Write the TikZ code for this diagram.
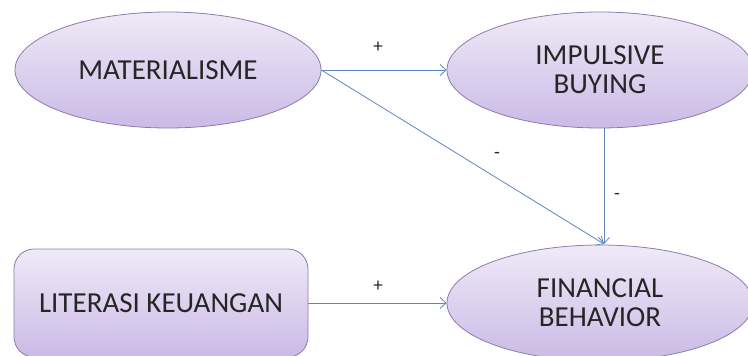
\documentclass[tikz,border=0pt]{standalone}
\usepackage{fontspec}
\setmainfont{Carlito}
\usetikzlibrary{shapes.geometric,arrows.meta}
\definecolor{fillTop}{HTML}{EFEAF7}
\definecolor{fillBot}{HTML}{CBBAE6}
\definecolor{edgeC}{HTML}{8A7DA8}
\definecolor{lineC}{HTML}{5F86BF}
\tikzset{
  oval/.style={ellipse, draw=edgeC, line width=0.8pt, top color=fillTop, bottom color=fillBot,
    minimum width=306pt, minimum height=116pt, inner sep=0pt, align=center,
    font=\fontsize{29}{29}\selectfont, text=black!85},
  rbox/.style={rectangle, rounded corners=20pt, draw=edgeC, line width=0.8pt, top color=fillTop, bottom color=fillBot,
    minimum width=294pt, minimum height=108pt, inner sep=0pt, align=center,
    font=\fontsize{29}{29}\selectfont, text=black!85},
  link/.style={draw=lineC, line width=0.8pt, -{Straight Barb[length=6pt,width=11pt,line width=0.8pt]}},
  sign/.style={font=\fontsize{19}{20}\selectfont, text=black!85, inner sep=0pt}
}
\begin{document}
\begin{tikzpicture}[x=1pt,y=-1pt]
\useasboundingbox (0,0) rectangle (748,356);
\node[oval] (mat) at (168,70) {MATERIALISME};
\node[oval] (imp) at (600,70) {IMPULSIVE\\BUYING};
\node[oval] (fin) at (600,303) {FINANCIAL\\BEHAVIOR};
\node[rbox] (lit) at (161,303) {LITERASI KEUANGAN};
\coordinate (tgt) at (604,244);
\draw[link] (mat.east) -- (imp.west);
\draw[link] (mat.east) -- (tgt);
\draw[link] (imp.south -| tgt) -- (tgt);
\draw[link] (lit.east) -- (fin.west);
\node[sign] (s1) at (378,47) {+};
\node[sign] (s2) at (497,155) {-};
\node[sign] (s3) at (617,196) {-};
\node[sign] (s4) at (378,286) {+};
\end{tikzpicture}
\end{document}
